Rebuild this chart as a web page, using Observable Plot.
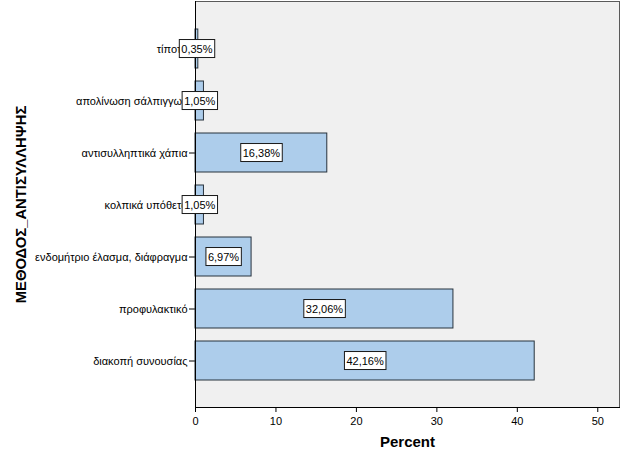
<!DOCTYPE html>
<html><head><meta charset="utf-8">
<script src="https://cdn.jsdelivr.net/npm/d3@7"></script>
<script src="https://cdn.jsdelivr.net/npm/@observablehq/plot@0.6"></script>
<style>html,body{margin:0;padding:0;background:#fff;}</style>
</head><body>
<div id="chart"></div>
<script>
const categories = [
  "τίποτα",
  "απολίνωση σάλπιγγων",
  "αντισυλληπτικά χάπια",
  "κολπικά υπόθετα",
  "ενδομήτριο έλασμα, διάφραγμα",
  "προφυλακτικό",
  "διακοπή συνουσίας"
];
const percents = [0.35, 1.05, 16.38, 1.05, 6.97, 32.06, 42.16];
const xTicks = [0, 10, 20, 30, 40, 50];
const xTitle = "Percent";
const yTitle = "ΜΕΘΟΔΟΣ_ΑΝΤΙΣΥΛΛΗΨΗΣ";

const data = categories.map((c, i) => ({category: c, percent: percents[i]}));
const fmt = v => v.toFixed(2).replace(".", ",") + "%";

const chart = Plot.plot({
  width: 626, height: 467,
  marginLeft: 195, marginRight: 7, marginTop: 1, marginBottom: 60,
  style: {fontFamily: "'Liberation Sans', Arial, sans-serif", fontSize: "11px", background: "#fff", color: "#000"},
  x: {domain: [0, 52.7], label: null},
  y: {domain: categories, paddingInner: 0.25, paddingOuter: 0.52, label: null},
  marks: [
    Plot.frame({fill: "#f0f0f0", stroke: "#5a5a5a"}),
    Plot.axisY({tickSize: 6, tickPadding: 2, label: null, fontSize: 11}),
    Plot.axisX({ticks: xTicks, tickSize: 5, tickPadding: 5, label: null, fontSize: 11}),
    Plot.barX(data, {x: "percent", y: "category", fill: "#adcdeb", stroke: "#27323d", strokeWidth: 1}),
    Plot.ruleX([0], {stroke: "#000"}),
    Plot.frame({anchor: "bottom", stroke: "#000"}),
    Plot.text(data, {x: d => d.percent / 2, y: "category", text: d => fmt(d.percent), fill: "#000", fontSize: 11}),
    Plot.text([xTitle], {frameAnchor: "bottom", text: d => d, dy: 39, fontWeight: "bold", fontSize: 15, fill: "#000"}),
    Plot.text([yTitle], {frameAnchor: "left", text: d => d, dx: -174, rotate: -90, textAnchor: "middle", fontWeight: "bold", fontSize: 14.8, fill: "#000"})
  ]
});
document.getElementById("chart").append(chart);
const labelSet = new Set(percents.map(fmt));
chart.querySelectorAll("text").forEach(t => {
  if (!labelSet.has(t.textContent.trim())) return;
  const b = t.getBBox();
  const r = document.createElementNS("http://www.w3.org/2000/svg", "rect");
  r.setAttribute("x", b.x - 2);
  r.setAttribute("y", b.y + b.height / 2 - 9);
  r.setAttribute("width", b.width + 4);
  r.setAttribute("height", 18);
  r.setAttribute("fill", "#fff");
  r.setAttribute("stroke", "#1a1a1a");
  r.setAttribute("stroke-width", 1);
  const tr = t.getAttribute("transform");
  if (tr) r.setAttribute("transform", tr);
  t.parentNode.insertBefore(r, t);
});
</script>
</body></html>
